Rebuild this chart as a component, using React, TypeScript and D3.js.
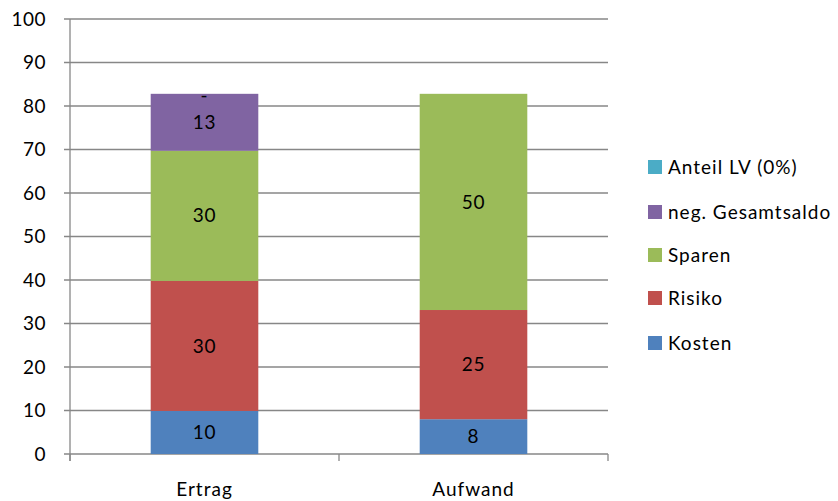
import React from "react";
import * as d3 from "d3";

const categories = ["Ertrag", "Aufwand"];
const seriesNames = ["Kosten", "Risiko", "Sparen", "neg. Gesamtsaldo", "Anteil LV (0%)"];
const seriesColors = ["#4F81BD", "#C0504D", "#9BBB59", "#8064A2", "#4BACC6"];
const kosten = [9.9, 8.0];
const risiko = [29.9, 25.1];
const sparen = [29.9, 49.7];
const negSaldo = [13.1, 0];
const anteilLV = [0, 0];
const labelsKosten = ["10", "8"];
const labelsRisiko = ["30", "25"];
const labelsSparen = ["30", "50"];
const labelsNeg = ["13", ""];
const labelsLV = ["-", ""];
const yTicks = [0, 10, 20, 30, 40, 50, 60, 70, 80, 90, 100];

const W = 838, H = 501;
const FONT = "Lato, 'Open Sans', sans-serif";
const FS = 19;

export default function App() {
  const x0 = 70, x1 = 608, yTop = 19, yBot = 454;
  const y = d3.scaleLinear().domain([0, 100]).range([yBot, yTop]);
  const xb = d3.scaleBand().domain(categories).range([x0, x1]).paddingInner(0.6).paddingOuter(0.3);
  const values = [kosten, risiko, sparen, negSaldo, anteilLV];
  const labels = [labelsKosten, labelsRisiko, labelsSparen, labelsNeg, labelsLV];
  const table = categories.map((c, i) => {
    const o: any = { cat: c };
    seriesNames.forEach((s, k) => (o[s] = values[k][i]));
    return o;
  });
  const stacked = d3.stack<any>().keys(seriesNames)(table);
  const legendY = [343, 298, 255, 212, 167];

  return (
    <svg width={W} height={H} style={{ position: "absolute", left: 0, top: 0, background: "#fff" }} fontFamily={FONT}>
      {yTicks.map((t) => (
        <g key={t}>
          <line x1={64} x2={x1} y1={y(t)} y2={y(t)} stroke="#878787" strokeWidth={1.3} />
          <text x={46} y={y(t)} dy="0.35em" textAnchor="end" fontSize={FS} letterSpacing={0.5} fill="#000">{t}</text>
        </g>
      ))}
      <line x1={x0} x2={x0} y1={yTop} y2={yBot + 7} stroke="#878787" strokeWidth={1.3} />
      {[0, 1, 2].map((i) => {
        const xx = x0 + (i * (x1 - x0)) / 2;
        return <line key={i} x1={xx} x2={xx} y1={yBot} y2={yBot + 7} stroke="#878787" strokeWidth={1.3} />;
      })}
      {stacked.map((layer, k) => (
        <g key={k}>
          {layer.map((d, i) => {
            const bx = xb(categories[i])!;
            const h = y(d[0]) - y(d[1]);
            return (
              <g key={i}>
                {h > 0 && <rect x={bx} y={y(d[1])} width={xb.bandwidth()} height={h} fill={seriesColors[k]} />}
                {labels[k][i] && (
                  <text x={bx + xb.bandwidth() / 2} y={h > 0 ? (y(d[0]) + y(d[1])) / 2 : y(d[1]) + 2} dy="0.35em" textAnchor="middle" fontSize={FS} letterSpacing={0.8} fill="#000">
                    {labels[k][i]}
                  </text>
                )}
              </g>
            );
          })}
        </g>
      ))}
      {categories.map((c) => (
        <text key={c} x={xb(c)! + xb.bandwidth() / 2} y={489} dy="0.35em" textAnchor="middle" fontSize={FS} letterSpacing={1} fill="#000">{c}</text>
      ))}
      {seriesNames.map((s, k) => (
        <g key={s}>
          <rect x={648} y={legendY[k] - 7} width={14} height={14} fill={seriesColors[k]} />
          <text x={668} y={legendY[k]} dy="0.35em" fontSize={FS} letterSpacing={1} fill="#000">{s}</text>
        </g>
      ))}
    </svg>
  );
}
